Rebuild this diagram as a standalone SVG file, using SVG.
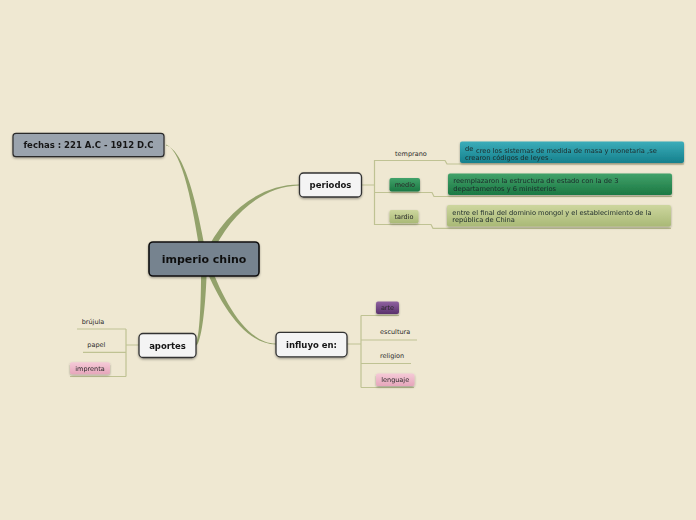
<svg xmlns="http://www.w3.org/2000/svg" width="696" height="520" viewBox="0 0 696 520">
<defs>
<style>
.t{font-family:"DejaVu Sans","Liberation Sans",sans-serif;}
.nb{font-weight:bold;font-size:8.5px;fill:#161616;text-anchor:middle;}
.sm{font-size:6.5px;fill:#2a2a2a;}
.dt{font-size:6.7px;fill:#1c2a2a;}
.br{fill:none;stroke:#bfc293;stroke-width:1.2;}
.tap{fill:#93a26b;}
.nd{filter:url(#sh);}
</style>
<filter id="sh" x="-10%" y="-20%" width="120%" height="150%">
<feDropShadow dx="0" dy="1.2" stdDeviation="0.8" flood-color="#000" flood-opacity="0.35"/>
</filter>
<linearGradient id="gTeal" x1="0" y1="0" x2="0" y2="1"><stop offset="0" stop-color="#3cadba"/><stop offset="1" stop-color="#15808c"/></linearGradient>
<linearGradient id="gGreen" x1="0" y1="0" x2="0" y2="1"><stop offset="0" stop-color="#42a26a"/><stop offset="1" stop-color="#1b7843"/></linearGradient>
<linearGradient id="gOlive" x1="0" y1="0" x2="0" y2="1"><stop offset="0" stop-color="#cdd69e"/><stop offset="1" stop-color="#a9b976"/></linearGradient>
<linearGradient id="gPurple" x1="0" y1="0" x2="0" y2="1"><stop offset="0" stop-color="#8f62a0"/><stop offset="1" stop-color="#5a316c"/></linearGradient>
<linearGradient id="gPink" x1="0" y1="0" x2="0" y2="1"><stop offset="0" stop-color="#f5cad7"/><stop offset="1" stop-color="#e6a6bb"/></linearGradient>
</defs>
<rect x="0" y="0" width="696" height="520" fill="#efe8d2"/>

<g id="connectors">
<path class="tap" d="M201,259 C193.5,210 183,151 166,144.5 L166,145.5 C185,149.5 198.5,210 207,259 Z"/>
<path class="tap" d="M203,258 C222,214 259,184.5 299,184.5 L299,185.5 C261,186.5 228,216 209,260 Z"/>
<path class="tap" d="M201,259 C201.5,300 199.5,339 195.5,344.5 L196.5,345.5 C202,341 206.5,300 207,259 Z"/>
<path class="tap" d="M207.8,258 C222,299 246,343.5 276,343.5 L276,344.5 C244,344.5 218,301 202.2,260 Z"/>
<path class="br" d="M361.5,185 H374.5 M374.5,160 V225 M374.5,160.5 H445 L447,164 H684 M374.5,192.5 H432 L434,196.5 H672 M374.5,224.5 H431 L433,228.3 H671"/>
<path class="br" d="M126,345 H139 M126,329 V376.5 M77,329 H126 M83,352.3 H126 M70,376.5 H126"/>
<path class="br" d="M347,344 H361 M361,315.5 V387.5 M361,315.5 H399 M361,340 H417 M361,363.5 H411 M361,387.5 H414"/>
</g>

<g id="n-center" class="nd">
<rect x="149" y="242" width="110" height="34" rx="4" fill="#76838f" stroke="#111" stroke-width="1.6"/>
<text class="t" x="204" y="263" text-anchor="middle" font-weight="bold" font-size="11" fill="#111">imperio chino</text>
</g>
<g id="n-fechas" class="nd">
<rect x="13" y="133.3" width="151" height="23.4" rx="3" fill="#9aa3ad" stroke="#2a2a2a" stroke-width="1.2"/>
<text class="t nb" x="88.5" y="148">fechas : 221 A.C - 1912 D.C</text>
</g>
<g id="n-periodos" class="nd">
<rect x="299.5" y="173" width="62" height="24" rx="4" fill="#f4f4f4" stroke="#333" stroke-width="1.3"/>
<text class="t nb" x="330.5" y="187.5">periodos</text>
</g>
<g id="n-aportes" class="nd">
<rect x="139" y="333.5" width="57" height="24" rx="4" fill="#f4f4f4" stroke="#333" stroke-width="1.3"/>
<text class="t nb" x="167.5" y="348.8">aportes</text>
</g>
<g id="n-influyo" class="nd">
<rect x="276" y="332.3" width="71" height="24.5" rx="4" fill="#f4f4f4" stroke="#333" stroke-width="1.3"/>
<text class="t nb" x="311.5" y="347.5">influyo en:</text>
</g>

<g id="n-temprano">
<text class="t sm" x="395" y="155.6">temprano</text>
</g>
<g id="n-temprano-d" class="nd">
<rect x="460" y="141.5" width="224" height="21.5" rx="2" fill="url(#gTeal)"/>
<text class="t dt" x="465" y="151.2" font-size="7.2">de</text>
<text class="t dt" x="476" y="152.6">creo los sistemas de medida de masa y monetaria ,se</text>
<text class="t dt" x="465" y="160">crearon códigos de leyes .</text>
</g>
<g id="n-medio" class="nd">
<rect x="389.5" y="178" width="30.5" height="13.5" rx="2" fill="url(#gGreen)"/>
<text class="t sm" x="404.8" y="187.3" text-anchor="middle" fill="#1d3f26">medio</text>
</g>
<g id="n-medio-d" class="nd">
<rect x="448" y="173.5" width="224" height="21.5" rx="2" fill="url(#gGreen)"/>
<text class="t dt" x="453.3" y="183">reemplazaron la estructura de estado con la de 3</text>
<text class="t dt" x="453.3" y="191">departamentos y 6 ministerios</text>
</g>
<g id="n-tardio" class="nd">
<rect x="389.5" y="210" width="29" height="13.3" rx="2" fill="url(#gOlive)"/>
<text class="t sm" x="404" y="218.8" text-anchor="middle" fill="#3a4420">tardio</text>
</g>
<g id="n-tardio-d" class="nd">
<rect x="447" y="205" width="224" height="21.5" rx="2" fill="url(#gOlive)"/>
<text class="t dt" x="452.3" y="214.6">entre el final del dominio mongol y el establecimiento de la</text>
<text class="t dt" x="452.3" y="222.3">república de China</text>
</g>

<g id="n-brujula"><text class="t sm" x="81.7" y="324">brújula</text></g>
<g id="n-papel"><text class="t sm" x="87.3" y="347.3">papel</text></g>
<g id="n-imprenta" class="nd">
<rect x="70" y="362.3" width="40" height="12" rx="2" fill="url(#gPink)"/>
<text class="t sm" x="90" y="370.6" text-anchor="middle" fill="#4a2a36">imprenta</text>
</g>

<g id="n-arte" class="nd">
<rect x="376" y="301.5" width="23" height="12.5" rx="2" fill="url(#gPurple)"/>
<text class="t sm" x="387.5" y="310.2" text-anchor="middle" fill="#24122c">arte</text>
</g>
<g id="n-escultura"><text class="t sm" x="380" y="334.3">escultura</text></g>
<g id="n-religion"><text class="t sm" x="380" y="358.3">religion</text></g>
<g id="n-lenguaje" class="nd">
<rect x="376" y="373.5" width="38.5" height="12.5" rx="2" fill="url(#gPink)"/>
<text class="t sm" x="395.2" y="382.2" text-anchor="middle" fill="#4a2a36">lenguaje</text>
</g>
</svg>
